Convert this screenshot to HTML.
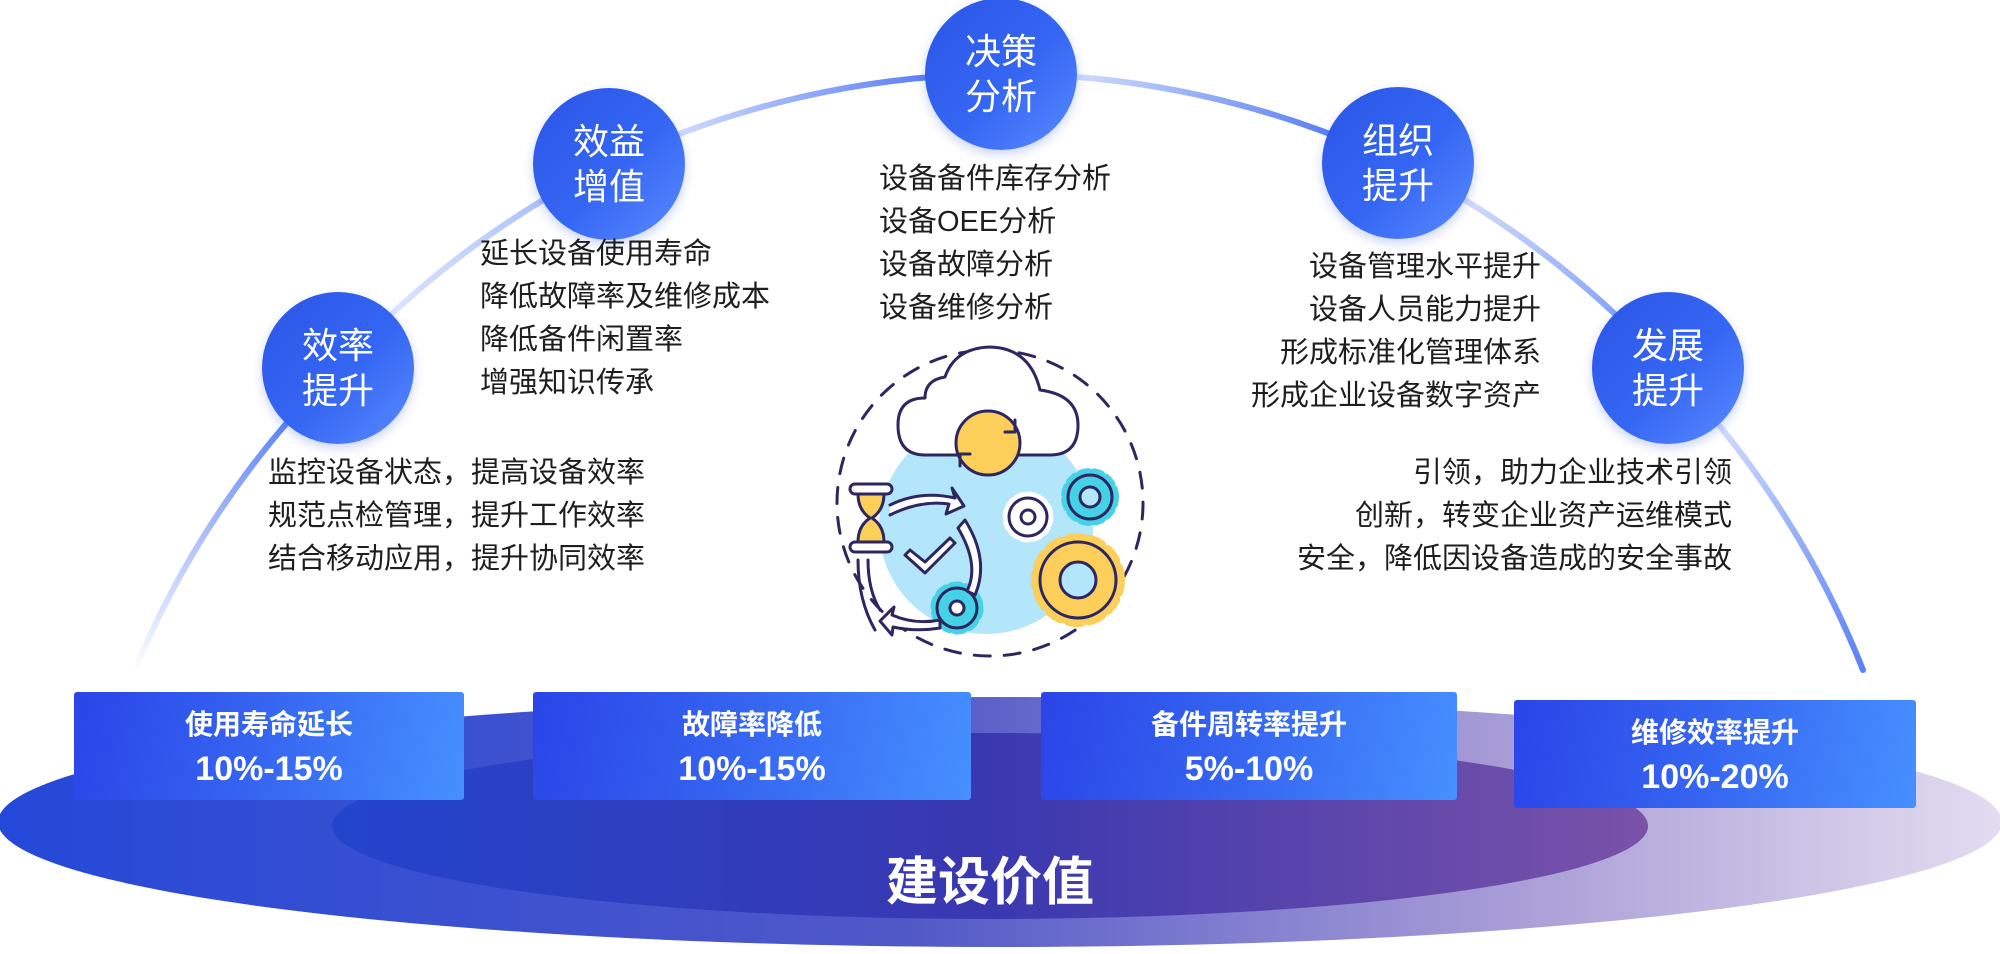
<!DOCTYPE html>
<html><head><meta charset="utf-8">
<style>
html,body{margin:0;padding:0;background:#fff;}
body{width:2000px;height:954px;position:relative;overflow:hidden;font-family:"Liberation Sans","Noto Sans CJK SC",sans-serif;}
.t{position:absolute;font-size:29px;line-height:43px;color:#1e1e1e;white-space:nowrap;}
.r{text-align:right;}
.c{position:absolute;width:152px;height:152px;border-radius:50%;background:linear-gradient(135deg,#2b55e6 0%,#3566f3 55%,#5a8cff 100%);color:#fff;font-size:36px;line-height:45px;text-align:center;display:flex;align-items:center;justify-content:center;box-shadow:0 4px 10px rgba(40,80,220,0.25);}
.b{position:absolute;background:linear-gradient(100deg,#2a45e8 0%,#3563f0 45%,#4690ff 100%);color:#fff;text-align:center;font-weight:bold;border-radius:3px;}
.b .h{font-size:28px;margin-top:16px;line-height:34px;}
.b .v{font-size:34px;margin-top:6px;line-height:42px;}
</style></head><body>
<svg width="2000" height="954" style="position:absolute;left:0;top:0">
<defs>
<linearGradient id="og" x1="0" y1="0" x2="1" y2="0">
<stop offset="0" stop-color="#2448d8"/><stop offset="0.45" stop-color="#5058c8"/><stop offset="0.75" stop-color="#a79cd6"/><stop offset="1" stop-color="#e4dcf0"/></linearGradient>
<linearGradient id="ig" x1="0" y1="0" x2="1" y2="0">
<stop offset="0" stop-color="#2244cc"/><stop offset="0.5" stop-color="#3a38b0"/><stop offset="1" stop-color="#7a52a8"/></linearGradient>
<linearGradient id="s1" gradientUnits="userSpaceOnUse" x1="134" y1="672" x2="300" y2="420"><stop offset="0" stop-color="#fff"/><stop offset="1" stop-color="#5a80f5"/></linearGradient>
<linearGradient id="s2" gradientUnits="userSpaceOnUse" x1="338" y1="368" x2="609" y2="164"><stop offset="0" stop-color="#f0f4ff"/><stop offset="1" stop-color="#9ab4f8"/></linearGradient>
<linearGradient id="s3" gradientUnits="userSpaceOnUse" x1="609" y1="164" x2="1001" y2="74"><stop offset="0" stop-color="#f0f4ff"/><stop offset="1" stop-color="#3a66f0"/></linearGradient>
<linearGradient id="s4" gradientUnits="userSpaceOnUse" x1="1001" y1="74" x2="1398" y2="163"><stop offset="0" stop-color="#f0f4ff"/><stop offset="1" stop-color="#3a66f0"/></linearGradient>
<linearGradient id="s5" gradientUnits="userSpaceOnUse" x1="1398" y1="163" x2="1668" y2="368"><stop offset="0" stop-color="#eef2ff"/><stop offset="1" stop-color="#6a8ef5"/></linearGradient>
<linearGradient id="s6" gradientUnits="userSpaceOnUse" x1="1668" y1="368" x2="1863" y2="670"><stop offset="0" stop-color="#f0f4ff"/><stop offset="1" stop-color="#5a80f5"/></linearGradient>
</defs>
<ellipse cx="1000" cy="822" rx="1002" ry="125" fill="url(#og)"/>
<ellipse cx="990" cy="826" rx="658" ry="93" fill="url(#ig)"/>
<g fill="none" stroke-width="6" stroke-linecap="round">
<path d="M134 672 A920 920 0 0 1 338 368" stroke="url(#s1)"/>
<path d="M338 368 A920 920 0 0 1 609 164" stroke="url(#s2)"/>
<path d="M609 164 A920 920 0 0 1 1001 74" stroke="url(#s3)"/>
<path d="M1001 74 A920 920 0 0 1 1398 163" stroke="url(#s4)"/>
<path d="M1398 163 A920 920 0 0 1 1668 368" stroke="url(#s5)"/>
<path d="M1668 368 A920 920 0 0 1 1863 670" stroke="url(#s6)"/>
</g>
<!-- icon -->
<g stroke="#2e2660" stroke-width="3" stroke-linecap="round" stroke-linejoin="round">
<circle cx="990" cy="503" r="153" fill="none" stroke-dasharray="16 14"/>
<circle cx="986" cy="527" r="107" fill="#b3e5fb" stroke="none"/>
<path d="M925 455 Q898 455 898 425 Q898 398 925 398 Q925 380 945 377 Q955 348 990 347 Q1030 348 1040 390 Q1078 395 1078 425 Q1078 455 1050 455 Z" fill="#fff"/>
<circle cx="988" cy="443" r="32" fill="#fbcf5a"/>
<path d="M1015 420 l0 12 l-10 0 M960 466 l0 -12 l10 0" fill="none"/>
<circle cx="1090" cy="497" r="24" fill="none" stroke="#45d2e6" stroke-width="10" stroke-dasharray="7 6"/>
<circle cx="1090" cy="497" r="22" fill="#45d2e6"/><circle cx="1090" cy="497" r="10" fill="#b3e5fb"/>
<circle cx="1028" cy="517" r="21" fill="none" stroke="#fff" stroke-width="9" stroke-dasharray="6 5"/>
<circle cx="1028" cy="517" r="19" fill="#fff"/><circle cx="1028" cy="517" r="7" fill="#fff"/>
<circle cx="1078" cy="580" r="40" fill="none" stroke="#fbcf5a" stroke-width="14" stroke-dasharray="11 9"/>
<circle cx="1078" cy="580" r="38" fill="#fbcf5a"/><circle cx="1078" cy="580" r="18" fill="#b3e5fb"/>
<circle cx="957" cy="608" r="22" fill="none" stroke="#45d2e6" stroke-width="9" stroke-dasharray="8 6"/>
<circle cx="957" cy="608" r="20" fill="#45d2e6"/><circle cx="957" cy="608" r="7" fill="#fff"/>
<rect x="850" y="484" width="42" height="10" rx="5" fill="#fff"/>
<rect x="850" y="542" width="42" height="10" rx="5" fill="#fff"/>
<path d="M858 494 L884 494 Q884 510 872 518 Q884 526 884 542 L858 542 Q858 526 870 518 Q858 510 858 494 Z" fill="#fbcf5a"/>
<path d="M890 505 Q920 490 955 498 l-3 -10 l12 18 l-18 8 l3 -10 Q920 500 890 515" fill="#fff"/>
<path d="M905 555 l20 18 l30 -30 l-5 -5 l-25 24 l-15 -12 Z" fill="#fff"/>
<path d="M965 520 Q990 560 975 595 l-8 -4 Q980 565 958 528 Z" fill="#fff"/>
<path d="M940 620 Q915 625 892 615 l2 -8 l-14 14 l12 14 l1 -8 Q915 632 940 628 Z" fill="#fff"/>
<path d="M858 560 Q858 600 875 630 M868 560 Q868 590 880 610" fill="none"/>
</g>
</svg>

<div class="c" style="left:262px;top:292px">效率<br>提升</div>
<div class="c" style="left:533px;top:88px">效益<br>增值</div>
<div class="c" style="left:925px;top:-2px">决策<br>分析</div>
<div class="c" style="left:1322px;top:87px">组织<br>提升</div>
<div class="c" style="left:1592px;top:292px">发展<br>提升</div>

<div class="t" style="left:268px;top:452px">监控设备状态，提高设备效率<br>规范点检管理，提升工作效率<br>结合移动应用，提升协同效率</div>
<div class="t" style="left:480px;top:233px">延长设备使用寿命<br>降低故障率及维修成本<br>降低备件闲置率<br>增强知识传承</div>
<div class="t" style="left:879px;top:158px">设备备件库存分析<br>设备OEE分析<br>设备故障分析<br>设备维修分析</div>
<div class="t r" style="right:459px;top:246px">设备管理水平提升<br>设备人员能力提升<br>形成标准化管理体系<br>形成企业设备数字资产</div>
<div class="t r" style="right:268px;top:452px">引领，助力企业技术引领<br>创新，转变企业资产运维模式<br>安全，降低因设备造成的安全事故</div>

<div class="b" style="left:74px;top:692px;width:390px;height:108px"><div class="h">使用寿命延长</div><div class="v">10%-15%</div></div>
<div class="b" style="left:533px;top:692px;width:438px;height:108px"><div class="h">故障率降低</div><div class="v">10%-15%</div></div>
<div class="b" style="left:1041px;top:692px;width:416px;height:108px"><div class="h">备件周转率提升</div><div class="v">5%-10%</div></div>
<div class="b" style="left:1514px;top:700px;width:402px;height:108px"><div class="h">维修效率提升</div><div class="v">10%-20%</div></div>

<div style="position:absolute;left:790px;top:852px;width:400px;text-align:center;color:#fff;font-weight:bold;font-size:52px;line-height:62px">建设价值</div>
</body></html>
